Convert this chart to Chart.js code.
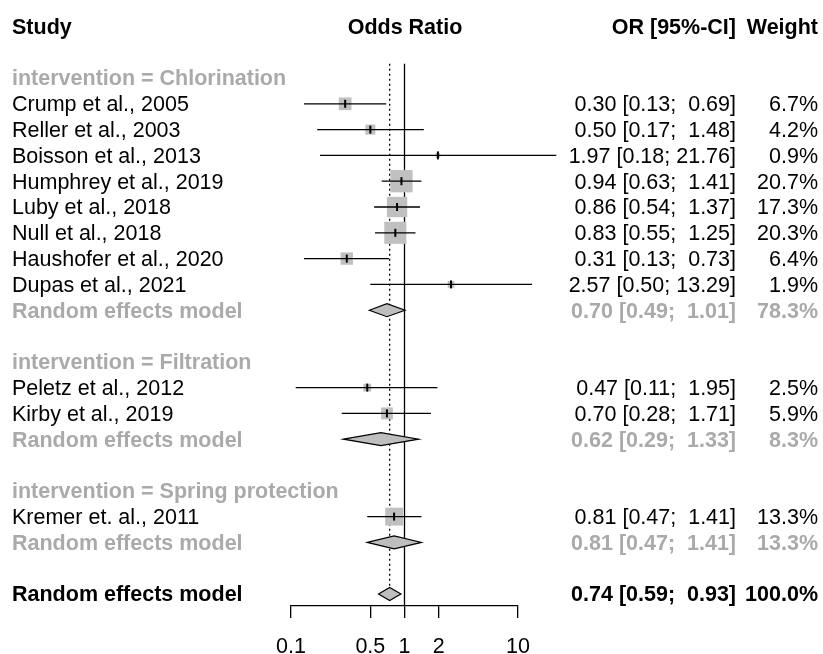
<!DOCTYPE html>
<html>
<head>
<meta charset="utf-8">
<script src="https://cdn.jsdelivr.net/npm/chart.js@4/dist/chart.umd.min.js"></script>
<style>
  html, body { margin: 0; padding: 0; background: #fff; }
  canvas { display: block; }
</style>
</head>
<body>
<canvas id="forest" width="823" height="654"></canvas>
<script>
// individual studies
const studyLabels = ['Crump et al., 2005', 'Reller et al., 2003', 'Boisson et al., 2013', 'Humphrey et al., 2019',
    'Luby et al., 2018', 'Null et al., 2018', 'Haushofer et al., 2020', 'Dupas et al., 2021',
    'Peletz et al., 2012', 'Kirby et al., 2019', 'Kremer et. al., 2011'];
const studyOR = [0.30, 0.50, 1.97, 0.94, 0.86, 0.83, 0.31, 2.57, 0.47, 0.70, 0.81];
const studyLower = [0.13, 0.17, 0.18, 0.63, 0.54, 0.55, 0.13, 0.50, 0.11, 0.28, 0.47];
const studyUpper = [0.69, 1.48, 21.76, 1.41, 1.37, 1.25, 0.73, 13.29, 1.95, 1.71, 1.41];
const studyWeight = [6.7, 4.2, 0.9, 20.7, 17.3, 20.3, 6.4, 1.9, 2.5, 5.9, 13.3];
const studyRows = [1, 2, 3, 4, 5, 6, 7, 8, 12, 13, 17];

// subgroups and their pooled estimates
const groupLabels = ['intervention = Chlorination', 'intervention = Filtration', 'intervention = Spring protection'];
const groupRows = [0, 11, 16];
const poolOR = [0.70, 0.62, 0.81];
const poolLower = [0.49, 0.29, 0.47];
const poolUpper = [1.01, 1.33, 1.41];
const poolWeight = [78.3, 8.3, 13.3];
const poolRows = [9, 14, 18];

// overall random effects estimate
const overallOR = 0.74;
const overallLower = 0.59;
const overallUpper = 0.93;
const overallWeight = 100.0;
const overallRow = 20;

const xTicks = [0.1, 0.5, 1, 2, 10];
const xTickLabels = ['0.1', '0.5', '1', '2', '10'];

const FONT = "'Liberation Sans', Arial, sans-serif";
const FS = 21.5;
const GREY_TEXT = '#aaaaaa';
const BOX = '#c0c0c0';
const DIAMOND = '#bebebe';

let fmtCI = (or, lo, hi) => or.toFixed(2) + ' [' + lo.toFixed(2) + '; ' + hi.toFixed(2).padStart(5) + ']';
let fmtW = (w) => w.toFixed(1) + '%';

// reference lines at OR = 1 and at the pooled estimate
const refLines = {
    id: 'refLines',
    beforeDatasetsDraw(chart) {
        let ctx = chart.ctx;
        let x = chart.scales.x, y = chart.scales.y;
        let top = y.getPixelForValue(-0.55);
        ctx.save();
        ctx.strokeStyle = '#000';
        ctx.lineWidth = 1.3;
        ctx.beginPath();
        ctx.moveTo(x.getPixelForValue(1), top);
        ctx.lineTo(x.getPixelForValue(1), chart.chartArea.bottom);
        ctx.stroke();
        ctx.setLineDash([2, 3]);
        ctx.beginPath();
        ctx.moveTo(x.getPixelForValue(overallOR), top);
        ctx.lineTo(x.getPixelForValue(overallOR), y.getPixelForValue(overallRow) - 6.5);
        ctx.stroke();
        ctx.restore();
    }
};

// CI whiskers, point ticks and diamonds
const forestMarks = {
    id: 'forestMarks',
    afterDatasetsDraw(chart) {
        let ctx = chart.ctx;
        let x = chart.scales.x, y = chart.scales.y;
        ctx.save();
        ctx.strokeStyle = '#000';
        for (let i = 0; i < studyOR.length; i++) {
            let py = y.getPixelForValue(studyRows[i]);
            ctx.lineWidth = 1.3;
            ctx.beginPath();
            ctx.moveTo(x.getPixelForValue(studyLower[i]), py);
            ctx.lineTo(x.getPixelForValue(studyUpper[i]), py);
            ctx.stroke();
            let px = x.getPixelForValue(studyOR[i]);
            ctx.lineWidth = 2;
            ctx.beginPath();
            ctx.moveTo(px, py - 4);
            ctx.lineTo(px, py + 4);
            ctx.stroke();
        }
        let diamond = (or, lo, hi, row) => {
            let py = y.getPixelForValue(row);
            ctx.beginPath();
            ctx.moveTo(x.getPixelForValue(lo), py);
            ctx.lineTo(x.getPixelForValue(or), py - 6.5);
            ctx.lineTo(x.getPixelForValue(hi), py);
            ctx.lineTo(x.getPixelForValue(or), py + 6.5);
            ctx.closePath();
            ctx.fillStyle = DIAMOND;
            ctx.fill();
            ctx.lineWidth = 1.2;
            ctx.stroke();
        };
        for (let i = 0; i < poolOR.length; i++) diamond(poolOR[i], poolLower[i], poolUpper[i], poolRows[i]);
        diamond(overallOR, overallLower, overallUpper, overallRow);
        ctx.restore();
    }
};

// text columns
const textColumns = {
    id: 'textColumns',
    afterDraw(chart) {
        let ctx = chart.ctx;
        let y = chart.scales.y;
        let put = (txt, px, row, align, bold, color) => {
            ctx.font = (bold ? 'bold ' : '') + FS + 'px ' + FONT;
            ctx.fillStyle = color;
            ctx.textAlign = align;
            ctx.fillText(txt, px, y.getPixelForValue(row) + 1.5);
        };
        ctx.save();
        ctx.textBaseline = 'middle';
        put('Study', 12, -2, 'left', true, '#000');
        put('Odds Ratio', 405, -2, 'center', true, '#000');
        put('OR [95%-CI]', 736, -2, 'right', true, '#000');
        put('Weight', 818, -2, 'right', true, '#000');

        groupLabels.forEach((g, i) => put(g, 12, groupRows[i], 'left', true, GREY_TEXT));
        studyLabels.forEach((s, i) => {
            put(s, 12, studyRows[i], 'left', false, '#000');
            put(fmtCI(studyOR[i], studyLower[i], studyUpper[i]), 736, studyRows[i], 'right', false, '#000');
            put(fmtW(studyWeight[i]), 818, studyRows[i], 'right', false, '#000');
        });
        poolRows.forEach((r, i) => {
            put('Random effects model', 12, r, 'left', true, GREY_TEXT);
            put(fmtCI(poolOR[i], poolLower[i], poolUpper[i]), 736, r, 'right', true, GREY_TEXT);
            put(fmtW(poolWeight[i]), 818, r, 'right', true, GREY_TEXT);
        });
        put('Random effects model', 12, overallRow, 'left', true, '#000');
        put(fmtCI(overallOR, overallLower, overallUpper), 736, overallRow, 'right', true, '#000');
        put(fmtW(overallWeight), 818, overallRow, 'right', true, '#000');
        ctx.restore();
    }
};

new Chart(document.getElementById('forest'), {
    type: 'scatter',
    data: {
        datasets: [{
            data: studyOR.map((v, i) => ({ x: v, y: studyRows[i] })),
            pointStyle: 'rect',
            pointRadius: studyWeight.map(w => 4.9 * Math.sqrt(w) / 2 / Math.SQRT1_2),
            backgroundColor: BOX,
            borderWidth: 0,
            clip: false
        }]
    },
    options: {
        responsive: false,
        animation: false,
        events: [],
        layout: { padding: { left: 291, right: 305, top: 40, bottom: 0 } },
        plugins: { legend: { display: false }, tooltip: { enabled: false } },
        scales: {
            x: {
                type: 'logarithmic',
                min: 0.1,
                max: 10,
                afterBuildTicks: (scale) => { scale.ticks = xTicks.map(v => ({ value: v })); },
                afterFit: (scale) => { scale.height = 48; },
                ticks: {
                    autoSkip: false,
                    maxRotation: 0,
                    padding: 16,
                    color: '#000',
                    font: { family: FONT, size: FS },
                    callback: (v) => xTickLabels[xTicks.indexOf(v)]
                },
                grid: { drawOnChartArea: false, drawTicks: true, tickLength: 12, color: '#000', lineWidth: 1.3 },
                border: { display: true, color: '#000', width: 1.3 }
            },
            y: {
                type: 'linear',
                display: false,
                reverse: true,
                min: -1.4729,
                max: 20.4651
            }
        }
    },
    plugins: [refLines, forestMarks, textColumns]
});
</script>
</body>
</html>
